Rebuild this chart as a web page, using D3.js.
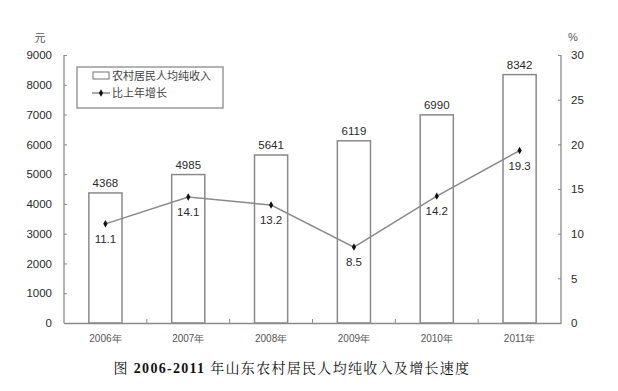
<!DOCTYPE html>
<html><head><meta charset="utf-8">
<script src="https://cdn.jsdelivr.net/npm/d3@7"></script>
<style>body{margin:0;background:#fff}svg{display:block}</style>
</head><body>
<script>
const years = ["2006年","2007年","2008年","2009年","2010年","2011年"];
const income = [4368,4985,5641,6119,6990,8342];
const growth = [11.1,14.1,13.2,8.5,14.2,19.3];
const leftTicks = [0,1000,2000,3000,4000,5000,6000,7000,8000,9000];
const rightTicks = [0,5,10,15,20,25,30];
const legendLabels = ["农村居民人均纯收入","比上年增长"];
const titleNum = "2006-2011";
const titleText = " 年山东农村居民人均纯收入及增长速度";

const W=618,H=391;
const svg=d3.select("body").append("svg").attr("width",W).attr("height",H);
const L=64,R=561,T=55,B=323;
const x=d3.scaleBand().domain(years).range([L,R]).padding(0);
const yL=d3.scaleLinear().domain([0,9000]).range([B,T]);
const yR=d3.scaleLinear().domain([0,30]).range([B,T]);
const gray="#8a8a8a", txt="#2a2a2a";
const font="Arial, 'Liberation Sans', sans-serif";

// bars
const bw=x.bandwidth()*0.4;
svg.selectAll("rect.bar").data(income).join("rect")
 .attr("x",(d,i)=>x(years[i])+x.bandwidth()/2-bw/2)
 .attr("y",d=>yL(d)).attr("width",bw).attr("height",d=>B-yL(d))
 .attr("fill","#fff").attr("stroke",gray).attr("stroke-width",1.5);
svg.selectAll("text.bl").data(income).join("text")
 .attr("x",(d,i)=>x(years[i])+x.bandwidth()/2).attr("y",d=>yL(d)-6)
 .attr("text-anchor","middle").attr("font-family",font).attr("font-size",11.5)
 .attr("fill",txt).text(d=>d);

// axes
const axL=d3.axisLeft(yL).tickValues(leftTicks).tickFormat(d3.format("d")).tickSize(-3).tickPadding(12);
const gL=svg.append("g").attr("transform",`translate(${L},0)`).call(axL);
const axR=d3.axisRight(yR).tickValues(rightTicks).tickFormat(d3.format("d")).tickSize(-3).tickPadding(10);
const gR=svg.append("g").attr("transform",`translate(${R},0)`).call(axR);
const axB=d3.axisBottom(x).tickSize(0).tickPadding(12);
const gB=svg.append("g").attr("transform",`translate(0,${B})`).call(axB);
[gL,gR,gB].forEach(g=>{
  g.select(".domain").attr("stroke",gray).attr("stroke-width",1.3);
  g.selectAll(".tick line").attr("stroke",gray);
  g.selectAll("text").attr("font-family",font).attr("fill",txt);
});
gL.select(".domain").attr("d",`M0,${T}V${B}`);
gR.select(".domain").attr("d",`M0,${T}V${B}`);
gL.selectAll("text").attr("font-size",11.5);
gR.selectAll("text").attr("font-size",11.5);
gB.selectAll("text").attr("font-size",10).attr("fill","#555");
// category separator ticks
svg.selectAll("line.sep").data(years.slice(1)).join("line")
 .attr("x1",d=>x(d)).attr("x2",d=>x(d)).attr("y1",B).attr("y2",B-4)
 .attr("stroke",gray);

// unit labels
svg.append("text").attr("x",40).attr("y",42).attr("text-anchor","middle")
 .attr("font-size",11).attr("fill","#555").attr("font-family","'Noto Sans CJK SC'").text("元");
svg.append("text").attr("x",573).attr("y",41).attr("text-anchor","middle")
 .attr("font-size",11).attr("fill","#555").attr("font-family",font).text("%");

// line
const cx=(i)=>x(years[i])+x.bandwidth()/2;
const line=d3.line().x((d,i)=>cx(i)).y(d=>yR(d));
svg.append("path").datum(growth).attr("d",line).attr("fill","none")
 .attr("stroke",gray).attr("stroke-width",1.5);
const sym=d3.symbol().type(d3.symbolDiamond).size(16);
svg.selectAll("path.pt").data(growth).join("path")
 .attr("transform",(d,i)=>`translate(${cx(i)},${yR(d)})`).attr("d",sym).attr("fill","#111");
svg.selectAll("text.gl").data(growth).join("text")
 .attr("x",(d,i)=>cx(i)).attr("y",d=>yR(d)+19).attr("text-anchor","middle")
 .attr("font-family",font).attr("font-size",11.5).attr("fill",txt).text(d=>d.toFixed(1));

// legend
svg.append("rect").attr("x",77).attr("y",67).attr("width",146).attr("height",41)
 .attr("fill","#fff").attr("stroke",gray).attr("stroke-width",1.3);
svg.append("rect").attr("x",93).attr("y",72).attr("width",16).attr("height",7)
 .attr("fill","#fff").attr("stroke",gray).attr("stroke-width",1.2);
svg.append("line").attr("x1",92).attr("x2",110).attr("y1",93).attr("y2",93)
 .attr("stroke",gray).attr("stroke-width",1.5);
svg.append("path").attr("transform","translate(101,93)").attr("d",sym).attr("fill","#111");
svg.selectAll("text.lg").data(legendLabels).join("text")
 .attr("x",112).attr("y",(d,i)=>80+i*17).attr("font-size",11)
 .attr("font-family","'Noto Sans CJK SC'").attr("fill","#444").text(d=>d);

// title
const t=svg.append("text").attr("x",292).attr("y",373).attr("text-anchor","middle")
 .attr("font-size",14).attr("fill","#111").attr("letter-spacing",1.3);
t.append("tspan").attr("font-family","'Noto Serif CJK SC','Noto Sans CJK SC'").text("图 ");
t.append("tspan").attr("font-family","'Liberation Serif',serif").attr("font-weight","bold").text(titleNum);
t.append("tspan").attr("font-family","'Noto Serif CJK SC','Noto Sans CJK SC'").text(titleText);
</script>
</body></html>
